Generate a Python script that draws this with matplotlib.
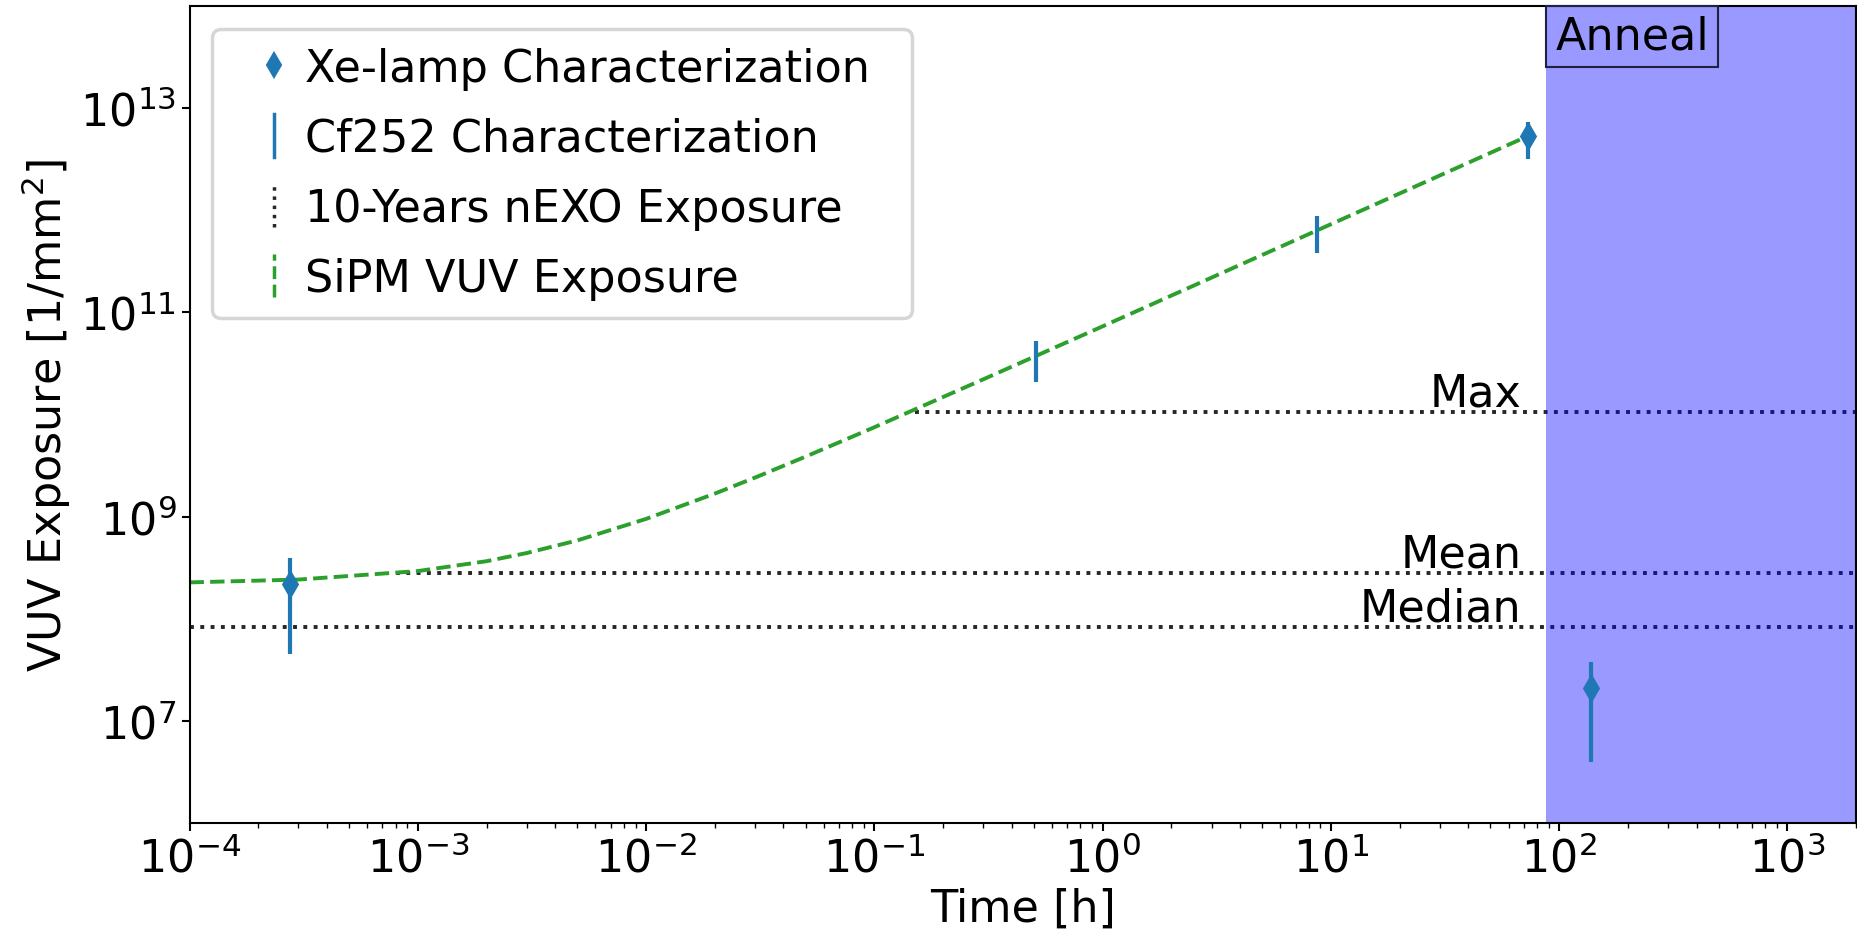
import matplotlib
matplotlib.use("Agg")
import matplotlib.pyplot as plt
import matplotlib.ticker as mticker
from matplotlib.lines import Line2D
from matplotlib.legend_handler import HandlerBase

# ---------------- data ----------------
xe_time = [2.75e-4, 73.0, 138.0]          # h
xe_exposure = [2.2e8, 5.3e12, 2.1e7]      # 1/mm^2
xe_err = [1.75e8, 2.1e12, 1.7e7]

cf_time = [0.51, 8.7]
cf_exposure = [3.7e10, 6.3e11]
cf_err = [1.6e10, 2.5e11]

curve_time = [1e-4, 3e-4, 1e-3, 2e-3, 3e-3, 5e-3, 1e-2, 2e-2, 3e-2, 5e-2,
              0.1, 0.3, 1.0, 3.0, 10.0, 30.0, 73.0]
curve_exposure = [2.27e8, 2.42e8, 2.93e8, 3.66e8, 4.4e8, 5.85e8, 9.5e8, 1.68e9,
                  2.41e9, 3.87e9, 7.5e9, 2.21e10, 7.3e10, 2.19e11, 7.3e11,
                  2.19e12, 5.33e12]

nexo_labels = ["Max", "Mean", "Median"]
nexo_levels = [1.05e10, 2.8e8, 8.3e7]
nexo_start = [0.15, 8e-4, 1e-4]

anneal_start = 88.0
x_limits = [1e-4, 2e3]
y_limits = [1e6, 1e14]
y_ticks = [1e7, 1e9, 1e11, 1e13]

legend_labels = ["Xe-lamp Characterization", "Cf252 Characterization",
                 "10-Years nEXO Exposure", "SiPM VUV Exposure"]

# ---------------- figure ----------------
FS = 32
fig = plt.figure(figsize=(18.58, 9.37), dpi=100)
fig.subplots_adjust(left=0.102, right=0.999, bottom=0.1206, top=0.9925)
ax = fig.add_subplot(111)

ax.set_xscale("log")
ax.set_yscale("log")
ax.set_xlim(*x_limits)
ax.set_ylim(*y_limits)

# nEXO exposure lines
for lab, lvl, st in zip(nexo_labels, nexo_levels, nexo_start):
    ax.hlines(lvl, st, x_limits[1], colors="0.15", linestyles=":", lw=2.8, zorder=2)
    ax.annotate(lab, xy=(0.799, lvl), xycoords=ax.get_yaxis_transform(),
                xytext=(0, 5), textcoords="offset points",
                ha="right", va="baseline", fontsize=FS)

# SiPM curve
ax.plot(curve_time, curve_exposure, ls="--", color="#2ca02c", lw=2.8, zorder=2.2)

# anneal region
ax.axvspan(anneal_start, x_limits[1], color="blue", alpha=0.4, lw=0, zorder=2.5)
ax.annotate("Anneal", xy=(anneal_start, 1.0),
            xycoords=ax.get_xaxis_transform(),
            xytext=(6.4, -6.4), textcoords="offset points",
            fontsize=FS, ha="left", va="top", zorder=4, annotation_clip=False,
            bbox=dict(boxstyle="square,pad=0.2", fc="none", ec="#202040", lw=1.5))

# measurements
ax.errorbar(xe_time, xe_exposure, yerr=xe_err, fmt="d", color="C0", ms=12,
            mew=2, elinewidth=3, capsize=0, zorder=3)
ax.errorbar(cf_time, cf_exposure, yerr=cf_err, fmt="none", ecolor="C0",
            elinewidth=3, capsize=0, zorder=3)

# ticks
ax.set_yticks(y_ticks)
ax.yaxis.set_minor_locator(mticker.NullLocator())
ax.xaxis.set_major_locator(mticker.LogLocator(base=10, numticks=20))
ax.xaxis.set_minor_locator(mticker.LogLocator(base=10, subs=range(2, 10), numticks=100))
ax.xaxis.set_minor_formatter(mticker.NullFormatter())
ax.tick_params(which="major", labelsize=FS, length=6, width=1.5)
ax.tick_params(which="minor", length=3.5, width=1.0)
for s in ax.spines.values():
    s.set_linewidth(1.5)

ax.set_xlabel("Time [h]", fontsize=FS)
ax.set_ylabel("VUV Exposure [1/mm$^2$]", fontsize=FS, labelpad=5)


# legend with vertical handles
class VHandler(HandlerBase):
    def __init__(self, kind, frac=0.825, **kw):
        super().__init__(**kw)
        self.kind = kind
        self.frac = frac

    def create_artists(self, legend, orig_handle, xdescent, ydescent, width,
                       height, fontsize, trans):
        x = -xdescent + width * self.frac
        if self.kind == "marker":
            art = Line2D([x], [-ydescent + height / 2], marker="d", ms=12, mew=1.5,
                         color=orig_handle.get_color(), ls="none")
        else:
            art = Line2D([x, x], [-ydescent - 0.2 * height, -ydescent + 1.2 * height],
                         color=orig_handle.get_color(),
                         ls=orig_handle.get_linestyle(), lw=orig_handle.get_linewidth())
        art.set_transform(trans)
        return [art]


h_xe = Line2D([], [], color="C0", marker="d", ls="none")
h_cf = Line2D([], [], color="C0", ls="-", lw=2.5)
h_nexo = Line2D([], [], color="0.15", ls=":", lw=2.5)
h_sipm = Line2D([], [], color="#2ca02c", ls="--", lw=2.5)

leg = ax.legend([h_xe, h_cf, h_nexo, h_sipm], legend_labels,
                handler_map={h_xe: VHandler("marker"), h_cf: VHandler("line"),
                             h_nexo: VHandler("line"), h_sipm: VHandler("line")},
                loc="upper left", bbox_to_anchor=(0.0135, 0.0, 0.42, 0.9718),
                mode="expand", borderaxespad=0.0,
                fontsize=FS, borderpad=0.4, labelspacing=0.61,
                handlelength=1.2, handletextpad=0.49)
leg.get_frame().set_linewidth(2.5)

fig.savefig("out.png", dpi=100)
